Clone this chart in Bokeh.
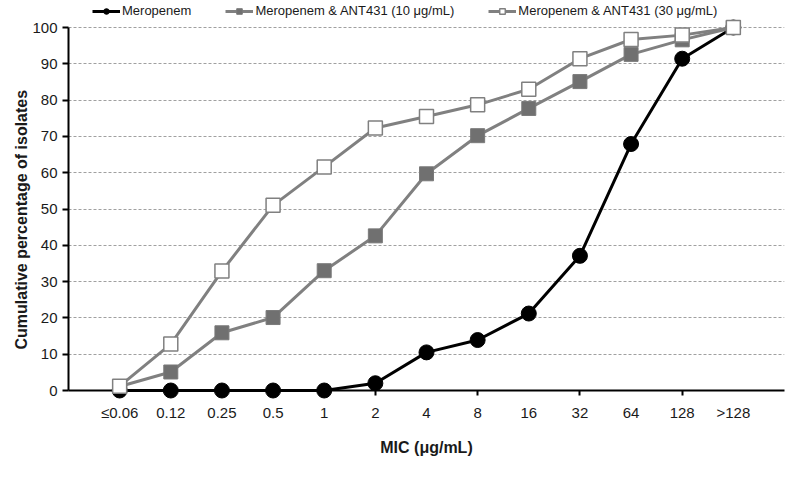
from bokeh.plotting import figure
from bokeh.models import Range1d, FixedTicker, Legend, LegendItem, Title
from bokeh.embed import file_html
from bokeh.resources import INLINE

categories = ["≤0.06", "0.12", "0.25", "0.5", "1", "2", "4", "8", "16", "32", "64", "128", ">128"]
meropenem = [0, 0, 0, 0, 0, 2.0, 10.5, 13.9, 21.2, 37.1, 67.9, 91.4, 100]
mero_ant10 = [1.1, 5.1, 15.9, 20.1, 33.0, 42.6, 59.7, 70.2, 77.7, 85.1, 92.6, 96.6, 100]
mero_ant30 = [1.2, 12.8, 32.9, 51.0, 61.6, 72.3, 75.5, 78.7, 83.0, 91.4, 96.7, 97.9, 100]
y_ticks = [0, 10, 20, 30, 40, 50, 60, 70, 80, 90, 100]
series_names = ["Meropenem", "Meropenem & ANT431 (10 μg/mL)", "Meropenem & ANT431 (30 μg/mL)"]

xs = list(range(len(categories)))
FONT = "Liberation Sans"

W, H = 792, 487
BOTTOM, LEFT, RIGHT = 97, 68, 8
frame_h = H - BOTTOM          # frame spans from the top of the figure
top_gap = 27                  # px between figure top and the 100 line
y_end = 100 * frame_h / (frame_h - top_gap)

p = figure(width=W, height=H, output_backend="svg", toolbar_location=None,
           x_range=Range1d(-1, len(categories)), y_range=Range1d(0, y_end),
           min_border_left=LEFT, min_border_right=RIGHT, min_border_top=0, min_border_bottom=BOTTOM)
p.outline_line_color = None
p.background_fill_color = "white"

# grid
p.xgrid.visible = False
p.ygrid.ticker = FixedTicker(ticks=y_ticks[1:])
p.ygrid.grid_line_color = "#a0a0a0"
p.ygrid.grid_line_dash = "3 2"
p.ygrid.grid_line_width = 1

# x axis
p.xaxis.ticker = FixedTicker(ticks=xs, minor_ticks=[i for i in xs if i % 2 == 1])
p.xaxis.major_label_overrides = {i: c for i, c in zip(xs, categories)}
p.xaxis.major_tick_out = 0
p.xaxis.major_tick_in = 0
p.xaxis.minor_tick_out = 5
p.xaxis.minor_tick_in = 0
p.xaxis.minor_tick_line_width = 2
p.xaxis.axis_line_width = 2
p.xaxis.axis_line_color = "black"
p.xaxis.major_label_standoff = 8
p.xaxis.major_label_text_font = FONT
p.xaxis.major_label_text_font_size = "15px"
p.xaxis.major_label_text_color = "#1a1a1a"
p.xaxis.axis_label = "MIC (μg/mL)"
p.xaxis.axis_label_text_font = FONT
p.xaxis.axis_label_text_font_size = "16px"
p.xaxis.axis_label_text_font_style = "bold"
p.xaxis.axis_label_text_color = "#1a1a1a"
p.xaxis.axis_label_standoff = 15

# y axis
p.yaxis.ticker = FixedTicker(ticks=y_ticks)
p.yaxis.bounds = (0, 100)
p.yaxis.major_tick_out = 6
p.yaxis.major_tick_in = 0
p.yaxis.major_tick_line_width = 2
p.yaxis.minor_tick_line_color = None
p.yaxis.axis_line_width = 2
p.yaxis.axis_line_color = "black"
p.yaxis.major_label_standoff = 5
p.yaxis.major_label_text_font = FONT
p.yaxis.major_label_text_font_size = "15px"
p.yaxis.major_label_text_color = "#1a1a1a"

# y axis title, centred on the 0-100 span rather than the whole frame
ytitle = Title(text="Cumulative percentage of isolates", align="left", offset=41,
               text_font=FONT, text_font_size="16px", text_font_style="bold",
               text_color="#1a1a1a", standoff=0)
p.add_layout(ytitle, "left")

# series
l1 = p.line(xs, meropenem, line_color="black", line_width=3, level="overlay")
s1 = p.scatter(xs, meropenem, marker="circle", size=15, fill_color="black", line_color="black", level="overlay")
l2 = p.line(xs, mero_ant10, line_color="#808080", line_width=3, level="overlay")
s2 = p.scatter(xs, mero_ant10, marker="square", size=14, fill_color="#707070", line_color="#7a7a7a", line_width=1, level="overlay")
l3 = p.line(xs, mero_ant30, line_color="#808080", line_width=3, level="overlay")
s3 = p.scatter(xs, mero_ant30, marker="square", size=14, fill_color="white", line_color="#808080", line_width=1.5, level="overlay")

legend = Legend(items=[
    LegendItem(label=series_names[0], renderers=[l1, s1]),
    LegendItem(label=series_names[1], renderers=[l2, s2]),
    LegendItem(label=series_names[2], renderers=[l3, s3]),
], orientation="horizontal", location=(24, frame_h - 18))
legend.label_text_font = FONT
legend.label_text_font_size = "13px"
legend.label_text_color = "#1a1a1a"
legend.glyph_width = 28
legend.glyph_height = 14
legend.label_standoff = 2
legend.spacing = 34
legend.padding = 2
legend.margin = 0
legend.border_line_color = None
legend.background_fill_alpha = 0
p.add_layout(legend)

open("out.html", "w").write(file_html(p, INLINE))
